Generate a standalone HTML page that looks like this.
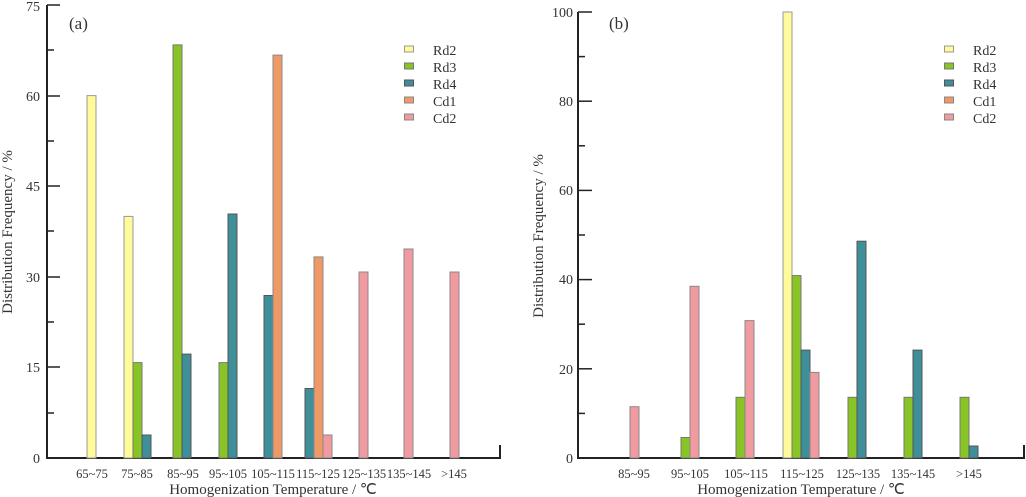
<!DOCTYPE html>
<html><head><meta charset="utf-8"><style>
html,body{margin:0;padding:0;background:#fff}
svg{display:block}
text{font-family:"Liberation Serif",serif;fill:#333}
</style></head><body>
<svg width="1026" height="497" viewBox="0 0 1026 497" xmlns="http://www.w3.org/2000/svg">
<defs><style>
.a{stroke:#222;stroke-width:2;fill:none}
.t{stroke:#222;stroke-width:1.5}
.r2{fill:#fffa9a;stroke:#999;stroke-width:1}
.r3{fill:#88c425;stroke:#777;stroke-width:1}
.r4{fill:#3e8f9a;stroke:#555;stroke-width:1}
.c1{fill:#ef9a66;stroke:#888;stroke-width:1}
.c2{fill:#f19ba0;stroke:#888;stroke-width:1}
.tl{font-size:14px;text-anchor:end}
.xl{font-size:12.5px;text-anchor:middle}
.lg{font-size:14px}
</style></defs>

<!-- Chart a -->
<path class="a" d="M47,5 V458 H500 V445"/>
<g class="t">
<line x1="47" y1="5" x2="60" y2="5"/><line x1="47" y1="50" x2="54" y2="50"/>
<line x1="47" y1="96" x2="60" y2="96"/><line x1="47" y1="141" x2="54" y2="141"/>
<line x1="47" y1="186" x2="60" y2="186"/><line x1="47" y1="231" x2="54" y2="231"/>
<line x1="47" y1="277" x2="60" y2="277"/><line x1="47" y1="322" x2="54" y2="322"/>
<line x1="47" y1="367" x2="60" y2="367"/><line x1="47" y1="413" x2="54" y2="413"/>
</g>
<text class="tl" x="40" y="11">75</text>
<text class="tl" x="40" y="101">60</text>
<text class="tl" x="40" y="191">45</text>
<text class="tl" x="40" y="282">30</text>
<text class="tl" x="40" y="372">15</text>
<text class="tl" x="40" y="463">0</text>
<text x="69" y="29" style="font-size:17px">(a)</text>
<text transform="translate(12,232) rotate(-90)" style="font-size:15px;text-anchor:middle">Distribution Frequency / %</text>
<text x="273" y="494" style="font-size:15px;text-anchor:middle">Homogenization Temperature / ℃</text>
<text class="xl" x="92" y="478">65~75</text>
<text class="xl" x="137" y="478">75~85</text>
<text class="xl" x="183" y="478">85~95</text>
<text class="xl" x="228" y="478">95~105</text>
<text class="xl" x="273" y="478">105~115</text>
<text class="xl" x="318" y="478">115~125</text>
<text class="xl" x="364" y="478">125~135</text>
<text class="xl" x="409" y="478">135~145</text>
<text class="xl" x="454" y="478">&gt;145</text>
<rect class="r2" x="87" y="95.6" width="9" height="362.4"/>
<rect class="r2" x="124" y="216.4" width="9" height="241.6"/>
<rect class="r3" x="133" y="362.6" width="9" height="95.4"/>
<rect class="r4" x="142" y="435" width="9" height="23"/>
<rect class="r3" x="173" y="44.9" width="9" height="413.1"/>
<rect class="r4" x="182" y="354.1" width="9" height="103.9"/>
<rect class="r3" x="219" y="362.6" width="9" height="95.4"/>
<rect class="r4" x="228" y="214" width="9" height="244"/>
<rect class="r4" x="264" y="295.5" width="9" height="162.5"/>
<rect class="c1" x="273" y="55.1" width="9" height="402.9"/>
<rect class="r4" x="305" y="388.5" width="9" height="69.5"/>
<rect class="c1" x="314" y="256.9" width="9" height="201.1"/>
<rect class="c2" x="323" y="435" width="9" height="23"/>
<rect class="c2" x="359" y="272" width="9" height="186"/>
<rect class="c2" x="404" y="249" width="9" height="209"/>
<rect class="c2" x="450" y="272" width="9" height="186"/>
<rect class="r2" x="404.5" y="46" width="9" height="6"/>
<rect class="r3" x="404.5" y="63" width="9" height="6"/>
<rect class="r4" x="404.5" y="80" width="9" height="6"/>
<rect class="c1" x="404.5" y="97" width="9" height="6"/>
<rect class="c2" x="404.5" y="114" width="9" height="6"/>
<text class="lg" x="433" y="55">Rd2</text>
<text class="lg" x="433" y="72">Rd3</text>
<text class="lg" x="433" y="89">Rd4</text>
<text class="lg" x="433" y="106">Cd1</text>
<text class="lg" x="433" y="123">Cd2</text>

<!-- Chart b -->
<path class="a" d="M578,12 V458 H1024 V445"/>
<g class="t">
<line x1="578" y1="12" x2="592" y2="12"/><line x1="578" y1="56.6" x2="585" y2="56.6"/>
<line x1="578" y1="101.2" x2="592" y2="101.2"/><line x1="578" y1="145.8" x2="585" y2="145.8"/>
<line x1="578" y1="190.4" x2="592" y2="190.4"/><line x1="578" y1="235" x2="585" y2="235"/>
<line x1="578" y1="279.6" x2="592" y2="279.6"/><line x1="578" y1="324.2" x2="585" y2="324.2"/>
<line x1="578" y1="368.8" x2="592" y2="368.8"/><line x1="578" y1="413.4" x2="585" y2="413.4"/>
</g>
<text class="tl" x="573" y="17">100</text>
<text class="tl" x="573" y="106">80</text>
<text class="tl" x="573" y="195">60</text>
<text class="tl" x="573" y="284">40</text>
<text class="tl" x="573" y="374">20</text>
<text class="tl" x="573" y="463">0</text>
<text x="609" y="29" style="font-size:17px">(b)</text>
<text transform="translate(543,236) rotate(-90)" style="font-size:15px;text-anchor:middle">Distribution Frequency / %</text>
<text x="801" y="494" style="font-size:15px;text-anchor:middle">Homogenization Temperature / ℃</text>
<text class="xl" x="634" y="478">85~95</text>
<text class="xl" x="690" y="478">95~105</text>
<text class="xl" x="746" y="478">105~115</text>
<text class="xl" x="802" y="478">115~125</text>
<text class="xl" x="858" y="478">125~135</text>
<text class="xl" x="913" y="478">135~145</text>
<text class="xl" x="969" y="478">&gt;145</text>
<rect class="c2" x="630" y="406.7" width="9" height="51.3"/>
<rect class="r3" x="681" y="437.5" width="9" height="20.5"/>
<rect class="c2" x="690" y="286.3" width="9" height="171.7"/>
<rect class="r3" x="736" y="397.3" width="9" height="60.7"/>
<rect class="c2" x="745" y="320.6" width="9" height="137.4"/>
<rect class="r2" x="783" y="12" width="9" height="446"/>
<rect class="r3" x="792" y="275.6" width="9" height="182.4"/>
<rect class="r4" x="801" y="350.1" width="9" height="107.9"/>
<rect class="c2" x="810" y="372.4" width="9" height="85.6"/>
<rect class="r3" x="848" y="397.3" width="9" height="60.7"/>
<rect class="r4" x="857" y="241.2" width="9" height="216.8"/>
<rect class="r3" x="904" y="397.3" width="9" height="60.7"/>
<rect class="r4" x="913" y="350.1" width="9" height="107.9"/>
<rect class="r3" x="960" y="397.3" width="9" height="60.7"/>
<rect class="r4" x="969" y="446" width="9" height="12"/>
<rect class="r2" x="944.5" y="46" width="9" height="6"/>
<rect class="r3" x="944.5" y="63" width="9" height="6"/>
<rect class="r4" x="944.5" y="80" width="9" height="6"/>
<rect class="c1" x="944.5" y="97" width="9" height="6"/>
<rect class="c2" x="944.5" y="114" width="9" height="6"/>
<text class="lg" x="973" y="55">Rd2</text>
<text class="lg" x="973" y="72">Rd3</text>
<text class="lg" x="973" y="89">Rd4</text>
<text class="lg" x="973" y="106">Cd1</text>
<text class="lg" x="973" y="123">Cd2</text>
</svg>
</body></html>
